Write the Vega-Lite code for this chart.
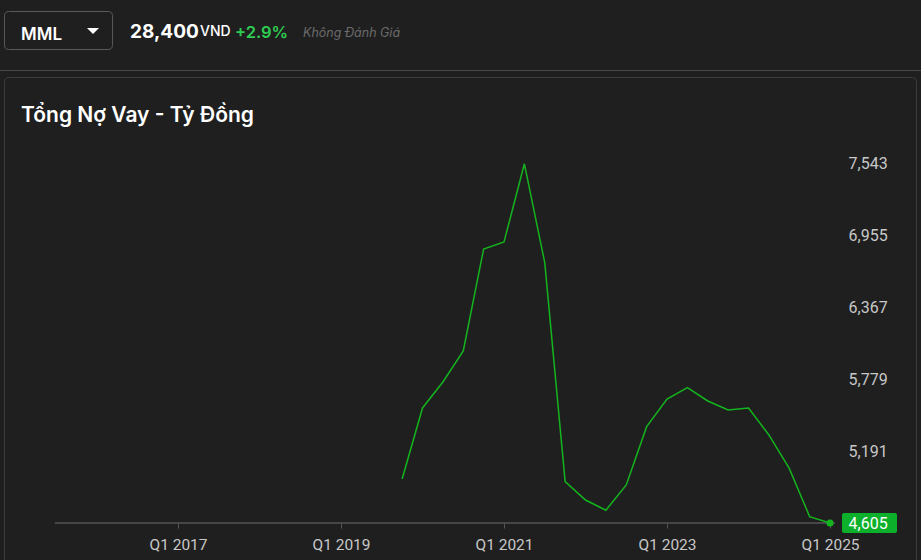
{
  "$schema": "https://vega.github.io/schema/vega-lite/v6.json",
  "width": 912,
  "height": 498,
  "autosize": "none",
  "padding": {"left": 4, "top": 77, "right": 5, "bottom": -15},
  "background": "#1f1f1f",
  "config": {
    "view": {"stroke": "#3c3c3c", "strokeWidth": 1, "cornerRadius": 4, "fill": null},
    "font": "Inter"
  },
  "layer": [
    {
      "data": {"values": [{}]},
      "mark": {"type": "rule", "color": "#474747", "strokeWidth": 1},
      "encoding": {
        "x": {"datum": 2014.816, "type": "quantitative"},
        "x2": {"datum": 2026.117},
        "y": {"datum": 8306, "type": "quantitative"}
      }
    },
    {
      "data": {"values": [{}]},
      "mark": {"type": "rect", "fill": null, "stroke": "#5a5a5a", "strokeWidth": 1, "cornerRadius": 4},
      "encoding": {
        "x": {"datum": 2014.871, "type": "quantitative"},
        "x2": {"datum": 2016.196},
        "y": {"datum": 8788.6, "type": "quantitative"},
        "y2": {"datum": 8477.8}
      }
    },
    {
      "data": {"values": [{"label": "MML"}]},
      "mark": {"type": "text", "align": "left", "baseline": "alphabetic", "font": "Inter", "fontSize": 17, "fontWeight": 600, "color": "#ffffff"},
      "encoding": {
        "x": {"datum": 2015.074, "type": "quantitative"},
        "y": {"datum": 8559.5, "type": "quantitative"},
        "text": {"field": "label"}
      }
    },
    {
      "data": {"values": [{}]},
      "mark": {"type": "point", "shape": "M-1,-0.5L1,-0.5L0,0.5Z", "size": 144, "filled": true, "color": "#ffffff", "opacity": 1, "strokeWidth": 0},
      "encoding": {
        "x": {"datum": 2015.957, "type": "quantitative"},
        "y": {"datum": 8629, "type": "quantitative"}
      }
    },
    {
      "data": {"values": [{"label": "28,400"}]},
      "mark": {"type": "text", "align": "left", "baseline": "alphabetic", "font": "Inter", "fontSize": 19, "fontWeight": 700, "color": "#ffffff"},
      "encoding": {
        "x": {"datum": 2016.411, "type": "quantitative"},
        "y": {"datum": 8575.9, "type": "quantitative"},
        "text": {"field": "label"}
      }
    },
    {
      "data": {"values": [{"label": "VND"}]},
      "mark": {"type": "text", "align": "left", "baseline": "alphabetic", "font": "Inter", "fontSize": 14, "fontWeight": 500, "color": "#ffffff"},
      "encoding": {
        "x": {"datum": 2017.27, "type": "quantitative"},
        "y": {"datum": 8588.2, "type": "quantitative"},
        "text": {"field": "label"}
      }
    },
    {
      "data": {"values": [{"label": "+2.9%"}]},
      "mark": {"type": "text", "align": "left", "baseline": "alphabetic", "font": "Inter", "fontSize": 16.5, "fontWeight": 600, "color": "#2ecc52"},
      "encoding": {
        "x": {"datum": 2017.699, "type": "quantitative"},
        "y": {"datum": 8571.8, "type": "quantitative"},
        "text": {"field": "label"}
      }
    },
    {
      "data": {"values": [{"label": "Không Đánh Giá"}]},
      "mark": {"type": "text", "align": "left", "baseline": "alphabetic", "font": "Inter", "fontSize": 12.5, "fontStyle": "italic", "color": "#6b6b6b"},
      "encoding": {
        "x": {"datum": 2018.534, "type": "quantitative"},
        "y": {"datum": 8584.1, "type": "quantitative"},
        "text": {"field": "label"}
      }
    },
    {
      "data": {"values": [{"label": "Tổng Nợ Vay - Tỷ Đồng"}]},
      "mark": {"type": "text", "align": "left", "baseline": "alphabetic", "font": "Inter", "fontSize": 21, "fontWeight": 600, "color": "#ffffff"},
      "encoding": {
        "x": {"datum": 2015.074, "type": "quantitative"},
        "y": {"datum": 7884.8, "type": "quantitative"},
        "text": {"field": "label"}
      }
    },
    {
      "data": {"values": [{}]},
      "mark": {"type": "rule", "color": "#555555", "strokeWidth": 1.5},
      "encoding": {
        "x": {"datum": 2015.49, "type": "quantitative"},
        "x2": {"datum": 2025.06},
        "y": {"datum": 4605, "type": "quantitative"}
      }
    },
    {
      "data": {"values": [{}]},
      "mark": {"type": "rect", "fill": "#0db02b", "cornerRadius": 2},
      "encoding": {
        "x": {"datum": 2025.147, "type": "quantitative"},
        "x2": {"datum": 2025.822},
        "y": {"datum": 4686.8, "type": "quantitative"},
        "y2": {"datum": 4523.2}
      }
    },
    {
      "data": {
        "values": [
          {"period": "Q4 2019", "t": 2019.75, "debt": 4965},
          {"period": "Q1 2020", "t": 2020.0, "debt": 5546},
          {"period": "Q2 2020", "t": 2020.25, "debt": 5758},
          {"period": "Q3 2020", "t": 2020.5, "debt": 6012},
          {"period": "Q4 2020", "t": 2020.75, "debt": 6846},
          {"period": "Q1 2021", "t": 2021.0, "debt": 6903},
          {"period": "Q2 2021", "t": 2021.25, "debt": 7543},
          {"period": "Q3 2021", "t": 2021.5, "debt": 6734},
          {"period": "Q4 2021", "t": 2021.75, "debt": 4943},
          {"period": "Q1 2022", "t": 2022.0, "debt": 4793},
          {"period": "Q2 2022", "t": 2022.25, "debt": 4709},
          {"period": "Q3 2022", "t": 2022.5, "debt": 4916},
          {"period": "Q4 2022", "t": 2022.75, "debt": 5393},
          {"period": "Q1 2023", "t": 2023.0, "debt": 5619},
          {"period": "Q2 2023", "t": 2023.25, "debt": 5712},
          {"period": "Q3 2023", "t": 2023.5, "debt": 5603},
          {"period": "Q4 2023", "t": 2023.75, "debt": 5529},
          {"period": "Q1 2024", "t": 2024.0, "debt": 5546},
          {"period": "Q2 2024", "t": 2024.25, "debt": 5325},
          {"period": "Q3 2024", "t": 2024.5, "debt": 5052},
          {"period": "Q4 2024", "t": 2024.75, "debt": 4657},
          {"period": "Q1 2025", "t": 2025.0, "debt": 4605}
        ]
      },
      "layer": [
        {
          "mark": {"type": "line", "color": "#14b41e", "strokeWidth": 1.5},
          "encoding": {
            "x": {
              "field": "t",
              "type": "quantitative",
              "scale": {"domain": [2014.865, 2026.055], "nice": false, "zero": false},
              "axis": {
                "orient": "bottom",
                "offset": -52,
                "domain": false,
                "ticks": true,
                "tickSize": 5,
                "tickColor": "#555555",
                "tickWidth": 1,
                "grid": false,
                "values": [2017, 2019, 2021, 2023, 2025],
                "labelExpr": "'Q1 ' + datum.value",
                "labelFont": "Roboto",
                "labelFontSize": 15.5,
                "labelColor": "#c8c8c8",
                "labelPadding": 9,
                "labelFlush": false,
                "title": null
              }
            },
            "y": {
              "field": "debt",
              "type": "quantitative",
              "scale": {"domain": [4179.7, 8252.9], "nice": false, "zero": false},
              "axis": {
                "orient": "right",
                "offset": -68,
                "domain": false,
                "ticks": false,
                "tickSize": 0,
                "grid": false,
                "values": [4605, 5191, 5779, 6367, 6955, 7543],
                "labelExpr": "format(datum.value, ',')",
                "labelFont": "Roboto",
                "labelFontSize": 16,
                "labelPadding": 0,
                "labelAlign": "left",
                "labelBaseline": "middle",
                "labelColor": {"condition": {"test": "datum.value == 4605", "value": "#ffffff"}, "value": "#c8c8c8"},
                "zindex": 1,
                "title": null
              }
            }
          }
        },
        {
          "transform": [{"filter": "datum.period == 'Q1 2025'"}],
          "mark": {"type": "point", "filled": true, "color": "#14b41e", "size": 50, "opacity": 1},
          "encoding": {
            "x": {"field": "t", "type": "quantitative"},
            "y": {"field": "debt", "type": "quantitative"}
          }
        }
      ]
    }
  ]
}
